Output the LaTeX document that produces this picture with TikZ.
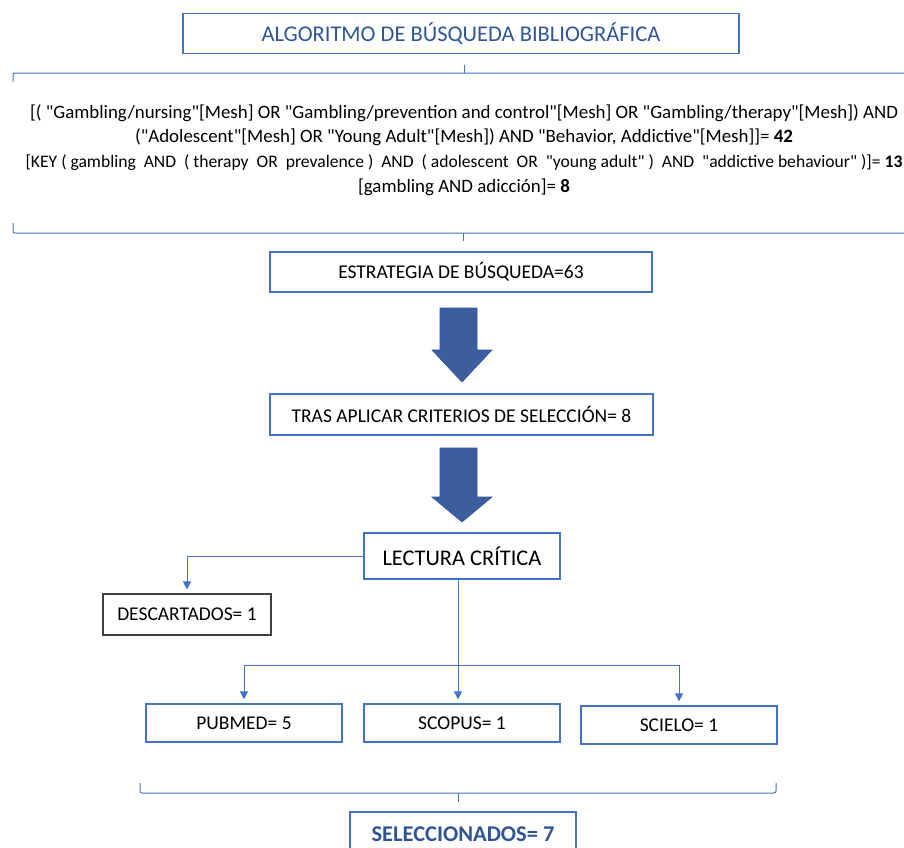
\documentclass[tikz,border=0pt]{standalone}
\usepackage{fontspec}
\setmainfont{Carlito}[Ligatures=TeXOff]
\usepackage{tikz}
\usetikzlibrary{arrows.meta,calc}
\definecolor{boxBlue}{HTML}{4472C4}
\definecolor{darkBlue}{HTML}{2F5597}
\definecolor{arrowBlue}{HTML}{3C5E9F}

\begin{document}
\begin{tikzpicture}[x=1pt,y=-1pt,
			stepBox/.style={shape=rectangle, draw=boxBlue, line width=1.3, inner sep=0pt, font=\fontsize{19.5}{22}\selectfont},
			greyBox/.style={shape=rectangle, draw=black!75, line width=1.1, inner sep=0pt, font=\fontsize{19.5}{22}\selectfont},
			conn/.style={draw=boxBlue, line width=0.9, -{Triangle[width=8pt,length=8pt]}, shorten >=4pt},
			braceLine/.style={draw=boxBlue, line width=1, rounded corners=2pt},
			bigArrow/.style={fill=arrowBlue, draw=darkBlue, line width=0.6}]
\useasboundingbox (0,0) rectangle (904,847);
\clip (0,0) rectangle (904,847);

\node [stepBox, minimum width=556, minimum height=40, text=darkBlue,
	font=\fontsize{22.5}{26}\selectfont] (titulo) at (461,33.5) {ALGORITMO DE BÚSQUEDA BIBLIOGRÁFICA};

\draw [braceLine] (13,82) -- (13,73) -- (910,73);
\draw [braceLine] (464,65) -- (464,73);
\node [align=center, font=\fontsize{18.9}{24.7}\selectfont] (busqueda) at (464,150)
	{{[}( "Gambling/nursing"[Mesh] OR "Gambling/prevention and control"[Mesh] OR "Gambling/therapy"[Mesh]) AND\\
	("Adolescent"[Mesh] OR "Young Adult"[Mesh]) AND "Behavior, Addictive"[Mesh]]= \textbf{42}\\
	{\fontsize{17.6}{24.7}\selectfont{[}KEY ( gambling \ AND \ ( therapy \ OR \ prevalence ) \ AND \ ( adolescent \ OR \ "young adult" ) \ AND \ "addictive behaviour" )]= \textbf{13}\hspace*{14pt}}\\
	{[}gambling AND adicción]= \textbf{8}};
\draw [braceLine] (13,223) -- (13,233) -- (910,233);
\draw [braceLine] (463,233) -- (463,241);

\node [stepBox, minimum width=382, minimum height=40] (estrategia) at (461,272) {ESTRATEGIA DE BÚSQUEDA=63};
\draw [bigArrow] (440,308) -- (477,308) -- (477,350) -- (492,350) -- (462,382) -- (432,350) -- (440,350) -- cycle;
\node [stepBox, minimum width=383, minimum height=41] (criterios) at (461.5,414.5) {TRAS APLICAR CRITERIOS DE SELECCIÓN= 8};
\draw [bigArrow] (440,448) -- (477,448) -- (477,497) -- (492,497) -- (462,522) -- (432,497) -- (440,497) -- cycle;

\node [stepBox, minimum width=196, minimum height=46, font=\fontsize{22.4}{26}\selectfont] (lectura) at (462,556) {LECTURA CRÍTICA};
\node [greyBox, minimum width=168, minimum height=41] (descartados) at (187,614.5) {DESCARTADOS= 1};
\node [stepBox, minimum width=196, minimum height=38] (pubmed) at (244,723) {PUBMED= 5};
\node [stepBox, minimum width=196, minimum height=38] (scopus) at (462,723) {SCOPUS= 1};
\node [stepBox, minimum width=196, minimum height=38] (scielo) at (679,725) {SCIELO= 1};

\draw [conn] (lectura.west) -| (descartados.north);
\coordinate (split) at (458,665);
\draw [conn] (lectura.south -| split) -- (scopus.north -| split);
\draw [conn] (split) -| (pubmed.north);
\draw [conn] (split) -| (scielo.north);

\draw [braceLine] (140,783) -- (140,793) -- (776,793) -- (776,783);
\draw [braceLine] (458,793) -- (458,802);
\node [stepBox, minimum width=226, minimum height=44, text=darkBlue,
	font=\fontsize{22.5}{26}\bfseries\selectfont] (seleccionados) at (463,834) {SELECCIONADOS= 7};
\end{tikzpicture}
\end{document}
